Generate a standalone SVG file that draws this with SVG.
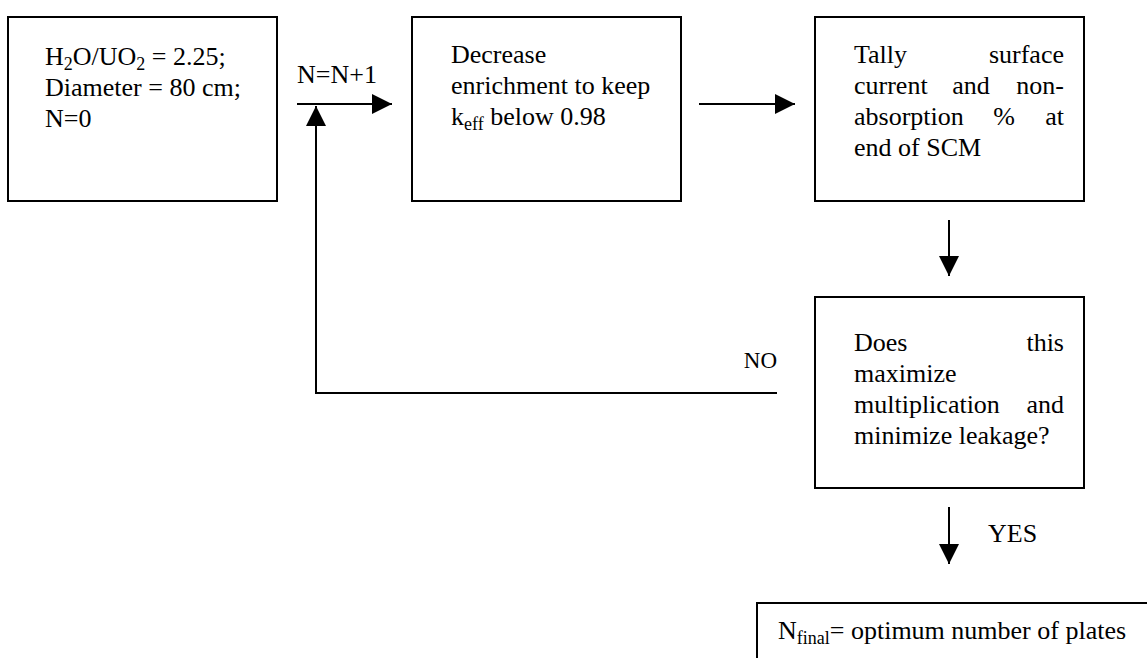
<svg xmlns="http://www.w3.org/2000/svg" width="1147" height="658" viewBox="0 0 1147 658">
<style>
.box{fill:#fff;stroke:#000;stroke-width:2}
.ln{fill:none;stroke:#000;stroke-width:2}
</style>
<defs>
<marker id="ah" markerWidth="20" markerHeight="20" refX="20" refY="10" orient="auto" markerUnits="userSpaceOnUse">
<path d="M0,0 L20,10 L0,20 Z" fill="#000"/>
</marker>
</defs>
<rect width="1147" height="658" fill="#fff"/>
<g id="connectors">
<line class="ln" x1="297" y1="104" x2="392" y2="104" marker-end="url(#ah)"/>
<polyline class="ln" points="777,393 316,393 316,106" marker-end="url(#ah)"/>
<line class="ln" x1="699" y1="104" x2="795" y2="104" marker-end="url(#ah)"/>
<line class="ln" x1="949" y1="220" x2="949" y2="276" marker-end="url(#ah)"/>
<line class="ln" x1="949" y1="507" x2="949" y2="564" marker-end="url(#ah)"/>
<g font-family="Liberation Serif" font-size="26">
<text x="297" y="83" font-family="Liberation Serif">N=N+1</text>
<text x="777" y="368" text-anchor="end" font-family="Liberation Serif" font-size="23">NO</text>
<text x="988" y="542" font-family="Liberation Serif">YES</text>
</g>
</g>
<g id="start" font-family="Liberation Serif" font-size="26">
<rect class="box" x="8" y="17" width="269" height="184"/>
<text x="45" y="65" font-family="Liberation Serif">H<tspan font-size="18" dy="5">2</tspan><tspan dy="-5">O/UO</tspan><tspan font-size="18" dy="5">2</tspan><tspan dy="-5"> = 2.25;</tspan></text>
<text x="45" y="96" font-family="Liberation Serif">Diameter = 80 cm;</text>
<text x="45" y="127" font-family="Liberation Serif">N=0</text>
</g>
<g id="decrease" font-family="Liberation Serif" font-size="26">
<rect class="box" x="412" y="17" width="269" height="184"/>
<text x="451" y="63" font-family="Liberation Serif">Decrease</text>
<text x="451" y="94" font-family="Liberation Serif">enrichment to keep</text>
<text x="451" y="125" font-family="Liberation Serif">k<tspan font-size="18" dy="5">eff</tspan><tspan dy="-5"> below 0.98</tspan></text>
</g>
<g id="tally" font-family="Liberation Serif" font-size="26">
<rect class="box" x="815" y="17" width="269" height="184"/>
<text x="854" y="63" font-family="Liberation Serif">Tally</text>
<text x="1064" y="63" text-anchor="end" font-family="Liberation Serif">surface</text>
<text x="854" y="94" font-family="Liberation Serif">current</text>
<text x="971" y="94" text-anchor="middle" font-family="Liberation Serif">and</text>
<text x="1064" y="94" text-anchor="end" font-family="Liberation Serif">non-</text>
<text x="854" y="125" font-family="Liberation Serif">absorption</text>
<text x="1004" y="125" text-anchor="middle" font-family="Liberation Serif">%</text>
<text x="1064" y="125" text-anchor="end" font-family="Liberation Serif">at</text>
<text x="854" y="156" font-family="Liberation Serif">end of SCM</text>
</g>
<g id="decision" font-family="Liberation Serif" font-size="26">
<rect class="box" x="815" y="297" width="269" height="191"/>
<text x="854" y="351" font-family="Liberation Serif">Does</text>
<text x="1064" y="351" text-anchor="end" font-family="Liberation Serif">this</text>
<text x="854" y="382" font-family="Liberation Serif">maximize</text>
<text x="854" y="413" font-family="Liberation Serif">multiplication</text>
<text x="1064" y="413" text-anchor="end" font-family="Liberation Serif">and</text>
<text x="854" y="444" font-family="Liberation Serif">minimize leakage?</text>
</g>
<g id="final" font-family="Liberation Serif" font-size="26">
<rect class="box" x="757" y="603" width="400" height="70"/>
<text x="778" y="639" font-family="Liberation Serif">N<tspan font-size="18" dy="5">final</tspan><tspan dy="-5">= optimum number of plates</tspan></text>
</g>
</svg>
